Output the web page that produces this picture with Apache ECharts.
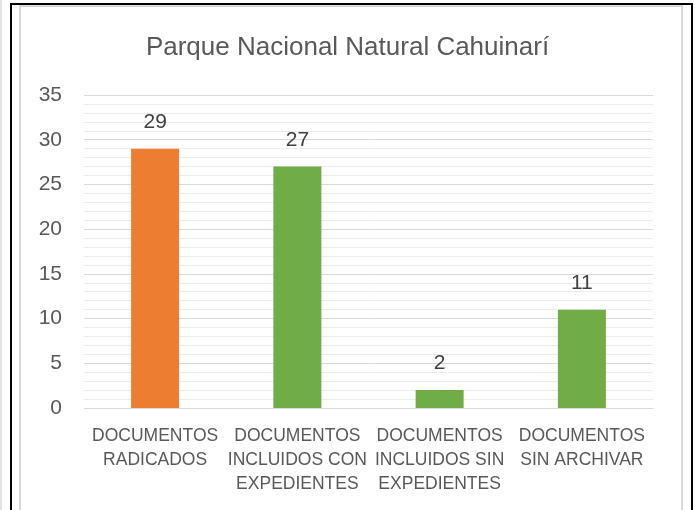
<!DOCTYPE html>
<html>
<head>
<meta charset="utf-8">
<script src="https://cdn.jsdelivr.net/npm/echarts@6/dist/echarts.min.js"></script>
<style>
  html, body { margin: 0; padding: 0; background: #fff; }
  #wrap { position: relative; width: 695px; height: 510px; overflow: hidden; }
  #chart { position: absolute; left: 0; top: 0; width: 695px; height: 510px; }
  .ln { position: absolute; }
</style>
</head>
<body>
<div id="wrap">
  <div id="chart"></div>
  <!-- marcos del documento -->
  <div class="ln" style="left:0;top:0;width:2px;height:510px;background:#e3e3e3"></div>
  <div class="ln" style="left:10px;top:3px;width:2px;height:507px;background:#000"></div>
  <div class="ln" style="left:19px;top:5px;width:2px;height:505px;background:#d9d9d9"></div>
  <div class="ln" style="left:10px;top:3px;width:683px;height:2px;background:#000"></div>
  <div class="ln" style="left:19px;top:5px;width:664px;height:2px;background:#d9d9d9"></div>
  <div class="ln" style="left:681px;top:5px;width:2px;height:505px;background:#d9d9d9"></div>
  <div class="ln" style="left:691px;top:3px;width:2px;height:507px;background:#000"></div>
</div>
<script>
// datos
const categorias = [
  'DOCUMENTOS\nRADICADOS',
  'DOCUMENTOS\nINCLUIDOS CON\nEXPEDIENTES',
  'DOCUMENTOS\nINCLUIDOS SIN\nEXPEDIENTES',
  'DOCUMENTOS\nSIN ARCHIVAR'
];
const valores = [29, 27, 2, 11];
const colores = ['#ED7D31', '#70AD47', '#70AD47', '#70AD47'];

const TXT = '#595959';
const FONT = '"Liberation Sans", Arial, sans-serif';

const chart = echarts.init(document.getElementById('chart'));
chart.setOption({
  animation: false,
  textStyle: { fontFamily: FONT, color: TXT },
  title: {
    text: 'Parque Nacional Natural Cahuinarí',
    left: 'center',
    top: 30,
    textStyle: { fontFamily: FONT, fontSize: 26, fontWeight: 'normal', color: TXT }
  },
  grid: { left: 84, right: 42, top: 95, bottom: 102 },
  xAxis: {
    type: 'category',
    data: categorias,
    axisLine: { lineStyle: { color: '#d9d9d9', width: 1 } },
    axisTick: { show: false },
    axisLabel: {
      color: TXT, fontFamily: FONT, fontSize: 17.5, lineHeight: 24,
      margin: 16, interval: 0
    }
  },
  yAxis: {
    type: 'value',
    min: 0, max: 35, interval: 5,
    axisLine: { show: false },
    axisTick: { show: false },
    axisLabel: { color: TXT, fontFamily: FONT, fontSize: 21, margin: 22 },
    splitLine: { lineStyle: { color: '#d9d9d9', width: 1 } },
    minorTick: { show: false, splitNumber: 5 },
    minorSplitLine: { show: true, lineStyle: { color: '#ececec', width: 1 } }
  },
  series: [{
    type: 'bar',
    data: valores.map((v, i) => ({ value: v, itemStyle: { color: colores[i] } })),
    barWidth: 48,
    label: {
      show: true, position: 'top', distance: 16,
      color: '#404040', fontFamily: FONT, fontSize: 21
    }
  }]
});
</script>
</body>
</html>
